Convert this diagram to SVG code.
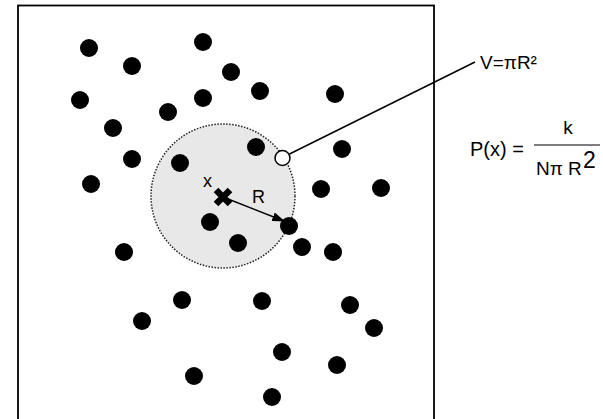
<svg xmlns="http://www.w3.org/2000/svg" width="603" height="419" viewBox="0 0 603 419">
  <style>
    .dot { fill: #000; }
    .t { font-family: "Liberation Sans", Arial, sans-serif; fill: #000; }
    .ln { stroke: #000; stroke-width: 1.5; fill: none; }
  </style>
  <defs>
    <marker id="ah" viewBox="0 0 10 10" refX="9" refY="5" markerWidth="13" markerHeight="9" markerUnits="userSpaceOnUse" orient="auto" preserveAspectRatio="none">
      <path d="M0,0 L10,5 L0,10 Z" fill="#000"/>
    </marker>
  </defs>
  <rect x="0" y="0" width="603" height="419" fill="#fff"/>
  <g id="frame">
    <rect x="18" y="5.5" width="416" height="430" fill="none" stroke="#000" stroke-width="1.8"/>
  </g>
  <g id="neighbourhood">
    <circle cx="223" cy="196" r="72" fill="#e8e8e8" stroke="#222" stroke-width="1.5" stroke-dasharray="1.5 1.5"/>
  </g>
  <g id="points">
    <circle class="dot" cx="89" cy="48" r="9"/>
    <circle class="dot" cx="132" cy="66" r="9"/>
    <circle class="dot" cx="203" cy="42" r="9"/>
    <circle class="dot" cx="231" cy="72" r="9"/>
    <circle class="dot" cx="80" cy="100" r="9"/>
    <circle class="dot" cx="203" cy="98" r="9"/>
    <circle class="dot" cx="260" cy="91" r="9"/>
    <circle class="dot" cx="335" cy="94" r="9"/>
    <circle class="dot" cx="168" cy="112" r="9"/>
    <circle class="dot" cx="113" cy="128" r="9"/>
    <circle class="dot" cx="256" cy="147" r="9"/>
    <circle class="dot" cx="342" cy="149" r="9"/>
    <circle class="dot" cx="132" cy="159" r="9"/>
    <circle class="dot" cx="180" cy="163" r="9"/>
    <circle class="dot" cx="91" cy="184" r="9"/>
    <circle class="dot" cx="321" cy="189" r="9"/>
    <circle class="dot" cx="381" cy="188" r="9"/>
    <circle class="dot" cx="210" cy="222" r="9"/>
    <circle class="dot" cx="238" cy="243" r="9"/>
    <circle class="dot" cx="289" cy="226" r="9"/>
    <circle class="dot" cx="302" cy="247" r="9"/>
    <circle class="dot" cx="333" cy="252" r="9"/>
    <circle class="dot" cx="124" cy="252" r="9"/>
    <circle class="dot" cx="182" cy="300" r="9"/>
    <circle class="dot" cx="262" cy="301" r="9"/>
    <circle class="dot" cx="350" cy="305" r="9"/>
    <circle class="dot" cx="142" cy="321" r="9"/>
    <circle class="dot" cx="374" cy="328" r="9"/>
    <circle class="dot" cx="282" cy="352" r="9"/>
    <circle class="dot" cx="337" cy="365" r="9"/>
    <circle class="dot" cx="194" cy="376" r="9"/>
    <circle class="dot" cx="272" cy="397" r="9"/>
  </g>
  <g id="connectors">
    <line class="ln" x1="223" y1="197" x2="284" y2="221" marker-end="url(#ah)"/>
    <line class="ln" x1="289.5" y1="154" x2="475" y2="62"/>
  </g>
  <g id="boundary-point">
    <circle cx="282.5" cy="158" r="7.5" fill="#fff" stroke="#000" stroke-width="1.5"/>
  </g>
  <g id="query-x">
    <path d="M216,190 L230,204 M230,190 L216,204" stroke="#000" stroke-width="6.5" fill="none"/>
    <text class="t" x="203" y="187" font-size="18">x</text>
  </g>
  <g id="radius-label">
    <text class="t" x="252" y="203" font-size="18">R</text>
  </g>
  <g id="volume-label">
    <text class="t" x="480" y="69" font-size="19">V=πR²</text>
  </g>
  <g id="formula">
    <text class="t" x="470" y="156" font-size="20">P(x) =</text>
    <line x1="534" y1="145" x2="600" y2="145" stroke="#000" stroke-width="1.2"/>
    <text class="t" x="568" y="134" font-size="19" text-anchor="middle">k</text>
    <text class="t" x="536" y="175" font-size="19">Nπ R</text>
    <text class="t" x="583" y="168" font-size="23">2</text>
  </g>
</svg>
